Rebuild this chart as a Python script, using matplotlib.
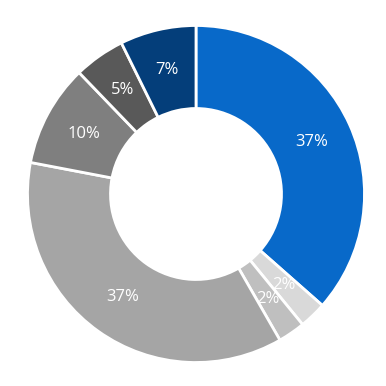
import matplotlib.pyplot as plt

plt.rcParams['font.family'] = ['Open Sans', 'DejaVu Sans']

# slice shares, clockwise from 12 o'clock
values = [36.5, 2.6, 2.6, 36.3, 9.8, 4.9, 7.3]
labels = ["37%", "2%", "2%", "37%", "10%", "5%", "7%"]
colors = ["#0869C9", "#D9D9D9", "#BFBFBF", "#A5A5A5", "#7F7F7F", "#595959", "#043E7A"]

fig = plt.figure(figsize=(3.86, 3.86), dpi=100)
ax = fig.add_axes([0, 0, 1, 1])

outer_r = 168.5
inner_r = 85.5
center = (196, 386 - 194)

wedges, texts = ax.pie(values, colors=colors, radius=outer_r, center=center,
                       startangle=90, counterclock=False,
                       labels=labels, labeldistance=(outer_r + inner_r) / 2 / outer_r,
                       wedgeprops=dict(width=outer_r - inner_r, edgecolor="white", linewidth=2),
                       textprops=dict(color="white", fontsize=12, ha="center", va="center"))

ax.set_xlim(0, 386)
ax.set_ylim(0, 386)
ax.set_aspect("equal")
ax.axis("off")

fig.savefig("out.png", dpi=100)
